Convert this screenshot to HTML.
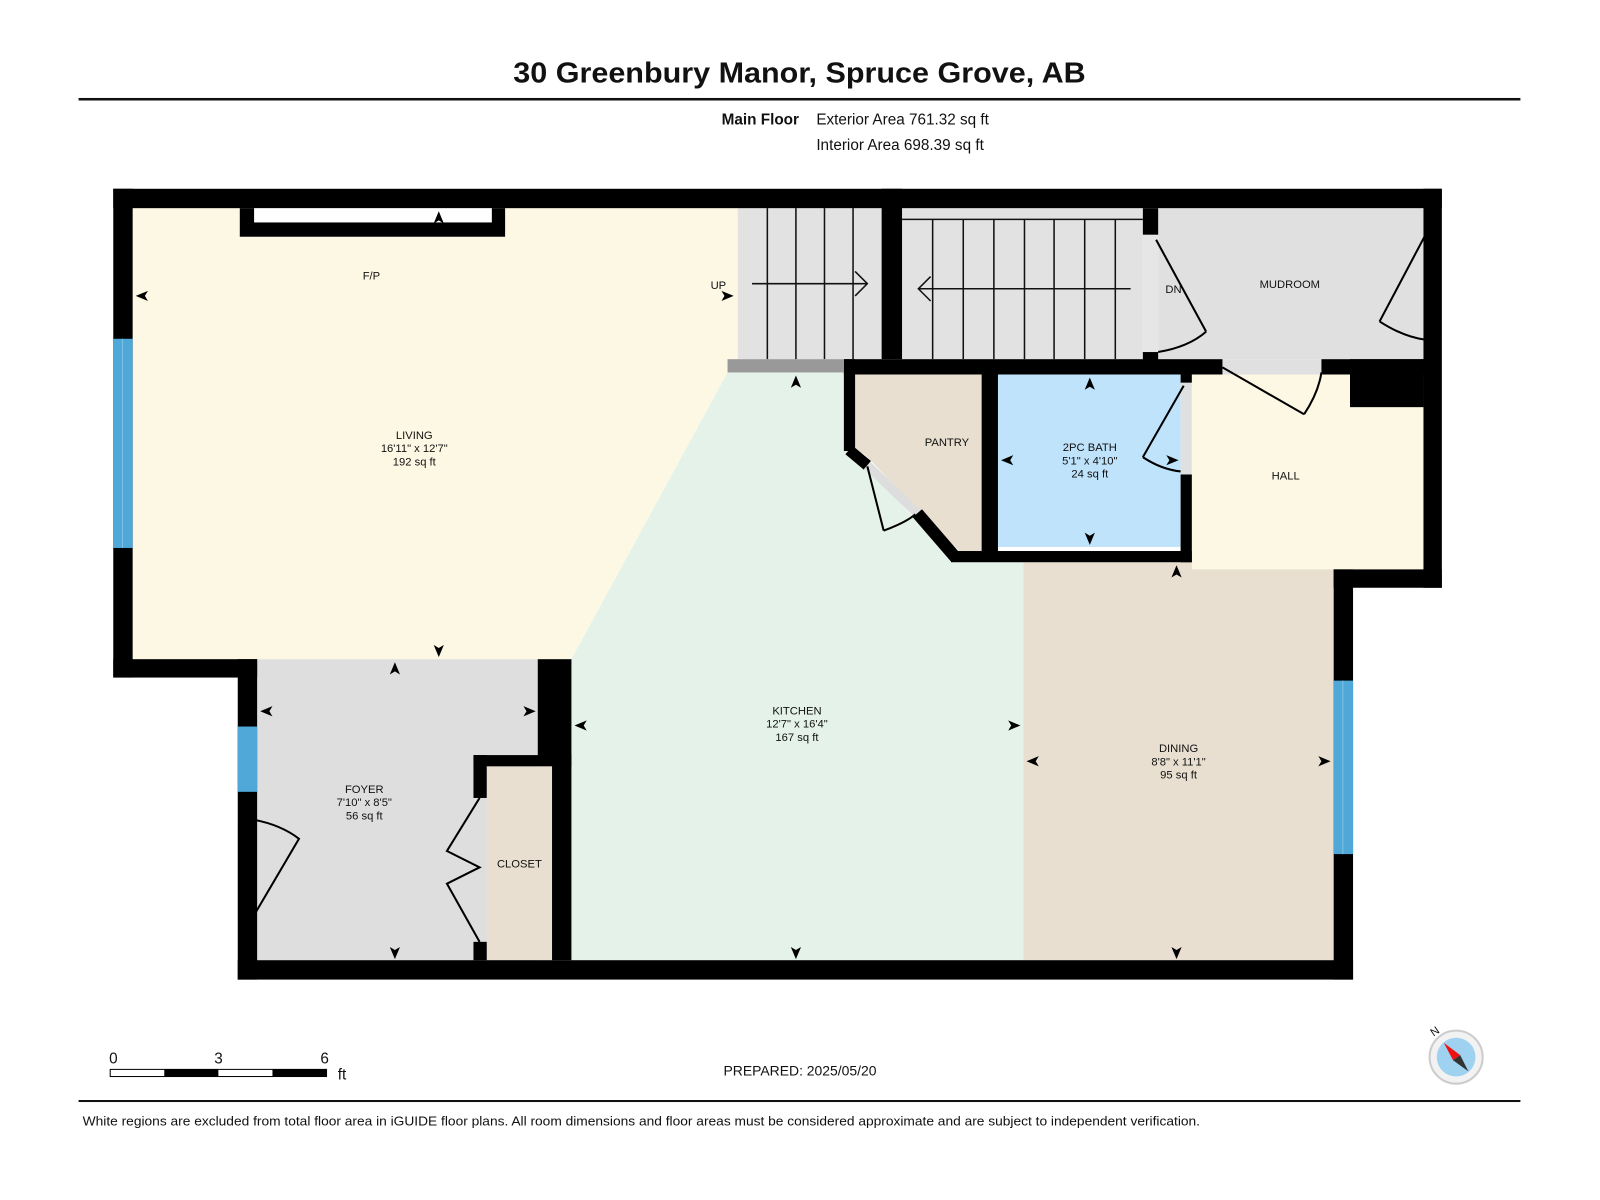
<!DOCTYPE html>
<html><head><meta charset="utf-8"><style>
html,body{margin:0;padding:0;background:#fff}
svg{display:block}
text{font-family:"Liberation Sans",Arial,sans-serif;fill:#111}
</style></head><body>
<svg width="1600" height="1200" viewBox="0 0 1568 1176" preserveAspectRatio="none" xmlns="http://www.w3.org/2000/svg">
<rect width="1568" height="1176" fill="#fff"/>
<text x="503" y="81" font-size="28" font-weight="bold" textLength="561" lengthAdjust="spacingAndGlyphs">30 Greenbury Manor, Spruce Grove, AB</text>
<rect x="77" y="96" width="1413" height="2.5" fill="#111"/>
<text x="783" y="122" font-size="15" font-weight="bold" text-anchor="end">Main Floor</text>
<text x="800" y="122" font-size="15">Exterior Area 761.32 sq ft</text>
<text x="800" y="147" font-size="15">Interior Area 698.39 sq ft</text>

<polygon points="130,204 723,204 723,352 713,365 560,646 130,646" fill="#fdf8e4"/>
<polygon points="713,365 827,365 827,440 848,457 937,551 1003,551 1003,941 560,941 560,646" fill="#e5f2ea"/>
<rect x="1003" y="551" width="304" height="390" fill="#e8dfd0"/>
<rect x="1168" y="367" width="227" height="191" fill="#fdf8e4"/>
<polygon points="838,367 962,367 962,540 940,540 905,505 848,446 838,440" fill="#e8dfd0"/>
<rect x="978" y="367" width="179" height="169" fill="#bfe3fb"/>
<rect x="1135" y="204" width="260" height="148" fill="#e0e0e0"/>
<rect x="1120" y="230" width="15" height="115" fill="#e6e6e6"/>
<rect x="723" y="204" width="141" height="148" fill="#e2e2e2"/>
<rect x="884" y="204" width="236" height="148" fill="#e2e2e2"/>
<rect x="252" y="646" width="275" height="295" fill="#dedede"/>
<rect x="477" y="751" width="64" height="190" fill="#e8dfd0"/>
<rect x="1198" y="352" width="97" height="15" fill="#e0e0e0"/>
<rect x="1157" y="375" width="11" height="90" fill="#e0e0e0"/>
<rect x="1395" y="230" width="18" height="103" fill="#e6e6e6"/>
<rect x="233" y="803" width="19" height="104" fill="#e6e6e6"/>

<g stroke="#111" stroke-width="1.5">
<line x1="884" y1="215" x2="1120" y2="215"/>
<line x1="752" y1="204" x2="752" y2="352"/><line x1="780" y1="204" x2="780" y2="352"/><line x1="808" y1="204" x2="808" y2="352"/><line x1="836" y1="204" x2="836" y2="352"/>
<line x1="914" y1="215" x2="914" y2="352"/><line x1="944" y1="215" x2="944" y2="352"/><line x1="974" y1="215" x2="974" y2="352"/><line x1="1004" y1="215" x2="1004" y2="352"/><line x1="1033" y1="215" x2="1033" y2="352"/><line x1="1063" y1="215" x2="1063" y2="352"/><line x1="1093" y1="215" x2="1093" y2="352"/>
<line x1="737" y1="278" x2="850" y2="278"/><polyline points="838,266 850,278 838,290" fill="none"/>
<line x1="900" y1="283" x2="1108" y2="283"/><polyline points="912,271 900,283 912,295" fill="none"/>
</g>

<g fill="#000">
<rect x="111" y="185" width="1302" height="19"/>
<rect x="111" y="185" width="19" height="479"/>
<rect x="111" y="646" width="141" height="18"/>
<rect x="233" y="646" width="19" height="314"/>
<rect x="233" y="941" width="1093" height="19"/>
<rect x="1307" y="558" width="19" height="402"/>
<rect x="1307" y="558" width="106" height="18"/>
<rect x="1395" y="185" width="18" height="391"/>
<rect x="864" y="185" width="20" height="167"/>
<rect x="1120" y="204" width="15" height="26"/>
<rect x="1120" y="345" width="15" height="8"/>
<rect x="827" y="352" width="371" height="15"/>
<rect x="1295" y="352" width="100" height="15"/>
<rect x="1323" y="352" width="72" height="47"/>
<rect x="827" y="352" width="11" height="90"/>
</g>
<line x1="832" y1="441" x2="850" y2="456" stroke="#000" stroke-width="11"/>
<line x1="850" y1="456" x2="899" y2="503" stroke="#ddd" stroke-width="9"/>
<line x1="899" y1="503" x2="937" y2="547" stroke="#000" stroke-width="12"/>
<g fill="#000">
<rect x="932" y="540" width="236" height="11"/>
<rect x="962" y="367" width="16" height="175"/>
<rect x="1157" y="367" width="11" height="8"/>
<rect x="1157" y="465" width="11" height="86"/>
<rect x="527" y="646" width="33" height="95"/>
<rect x="464" y="740" width="96" height="11"/>
<rect x="464" y="740" width="13" height="42"/>
<rect x="541" y="740" width="19" height="201"/>
<rect x="464" y="923" width="13" height="18"/>
<rect x="235" y="204" width="260" height="28"/>
</g>
<rect x="249" y="204" width="233" height="14" fill="#fff"/>
<rect x="713" y="352" width="114" height="13" fill="#999"/>
<g fill="#4fa8d8"><rect x="111" y="332" width="19" height="205"/><rect x="233" y="712" width="19" height="64"/><rect x="1307" y="667" width="19" height="170"/></g>
<g stroke="#7fc3e6" stroke-width="1"><line x1="120" y1="332" x2="120" y2="537"/><line x1="1316" y1="667" x2="1316" y2="837"/></g>

<g fill="none" stroke="#000" stroke-width="2">
<path d="M1133,235 L1182,325 M1135,345 Q1165,340 1182,325" />
<path d="M1397,230 L1352,315 M1352,315 Q1375,330 1397,333"/>
<path d="M1198,360 L1278,406 M1278,406 Q1292,385 1295,365"/>
<path d="M1160,378 L1120,448 M1120,448 Q1138,460 1157,462"/>
<path d="M850,457 L866,520 M866,520 Q888,512 897,504"/>
<path d="M247,803 Q275,808 293,822 L243,907"/>
<path d="M470,782 L438,834 L470,850 L438,866 L470,923"/>
</g>

<g font-size="11" text-anchor="middle">
<text x="364" y="274">F/P</text>
<text x="704" y="283">UP</text>
<text x="1150" y="287">DN</text>
<text x="1264" y="282">MUDROOM</text>
<text x="928" y="437">PANTRY</text>
<text x="1068" y="442">2PC BATH</text><text x="1068" y="455">5'1" x 4'10"</text><text x="1068" y="468">24 sq ft</text>
<text x="1260" y="470">HALL</text>
<text x="406" y="430">LIVING</text><text x="406" y="443">16'11" x 12'7"</text><text x="406" y="456">192 sq ft</text>
<text x="781" y="700">KITCHEN</text><text x="781" y="713">12'7" x 16'4"</text><text x="781" y="726">167 sq ft</text>
<text x="1155" y="737">DINING</text><text x="1155" y="750">8'8" x 11'1"</text><text x="1155" y="763">95 sq ft</text>
<text x="357" y="777">FOYER</text><text x="357" y="790">7'10" x 8'5"</text><text x="357" y="803">56 sq ft</text>
<text x="509" y="850">CLOSET</text>
</g>
<g fill="#000">
<path d="M133,290 l12,-5 l-3,5 l3,5z"/><path d="M719,290 l-12,-5 l3,5 l-3,5z"/>
<path d="M430,207 l-5,12 l5,-3 l5,3z"/><path d="M430,644 l-5,-12 l5,3 l5,-3z"/>
<path d="M780,368 l-5,12 l5,-3 l5,3z"/><path d="M780,940 l-5,-12 l5,3 l5,-3z"/>
<path d="M563,711 l12,-5 l-3,5 l3,5z"/><path d="M1000,711 l-12,-5 l3,5 l-3,5z"/>
<path d="M1068,370 l-5,12 l5,-3 l5,3z"/><path d="M1068,534 l-5,-12 l5,3 l5,-3z"/>
<path d="M981,451 l12,-5 l-3,5 l3,5z"/><path d="M1155,451 l-12,-5 l3,5 l-3,5z"/>
<path d="M1153,554 l-5,12 l5,-3 l5,3z"/><path d="M1153,940 l-5,-12 l5,3 l5,-3z"/>
<path d="M1006,746 l12,-5 l-3,5 l3,5z"/><path d="M1304,746 l-12,-5 l3,5 l-3,5z"/>
<path d="M387,649 l-5,12 l5,-3 l5,3z"/><path d="M387,940 l-5,-12 l5,3 l5,-3z"/>
<path d="M255,697 l12,-5 l-3,5 l3,5z"/><path d="M525,697 l-12,-5 l3,5 l-3,5z"/>
</g>

<g font-size="15"><text x="107" y="1042">0</text><text x="210" y="1042">3</text><text x="314" y="1042">6</text><text x="331" y="1058">ft</text></g>
<rect x="108" y="1048" width="212" height="7" fill="#fff" stroke="#000" stroke-width="1"/>
<rect x="161" y="1048" width="53" height="7" fill="#000"/><rect x="267" y="1048" width="53" height="7" fill="#000"/>
<text x="709" y="1054" font-size="14" textLength="150" lengthAdjust="spacingAndGlyphs">PREPARED: 2025/05/20</text>
<circle cx="1427" cy="1036" r="26" fill="#f2f2f2" stroke="#ccc" stroke-width="2"/>
<circle cx="1427" cy="1036" r="19" fill="#9fd2f0"/>
<polygon points="1415,1022 1431,1034 1424,1039" fill="#e11"/>
<polygon points="1439,1050 1431,1034 1424,1039" fill="#333"/>
<text x="1405" y="1016" font-size="11" transform="rotate(-35 1405 1016)">N</text>
<rect x="77" y="1078" width="1413" height="2" fill="#111"/>
<text x="81" y="1103" font-size="13" textLength="1095" lengthAdjust="spacingAndGlyphs">White regions are excluded from total floor area in iGUIDE floor plans. All room dimensions and floor areas must be considered approximate and are subject to independent verification.</text>
</svg>
</body></html>
